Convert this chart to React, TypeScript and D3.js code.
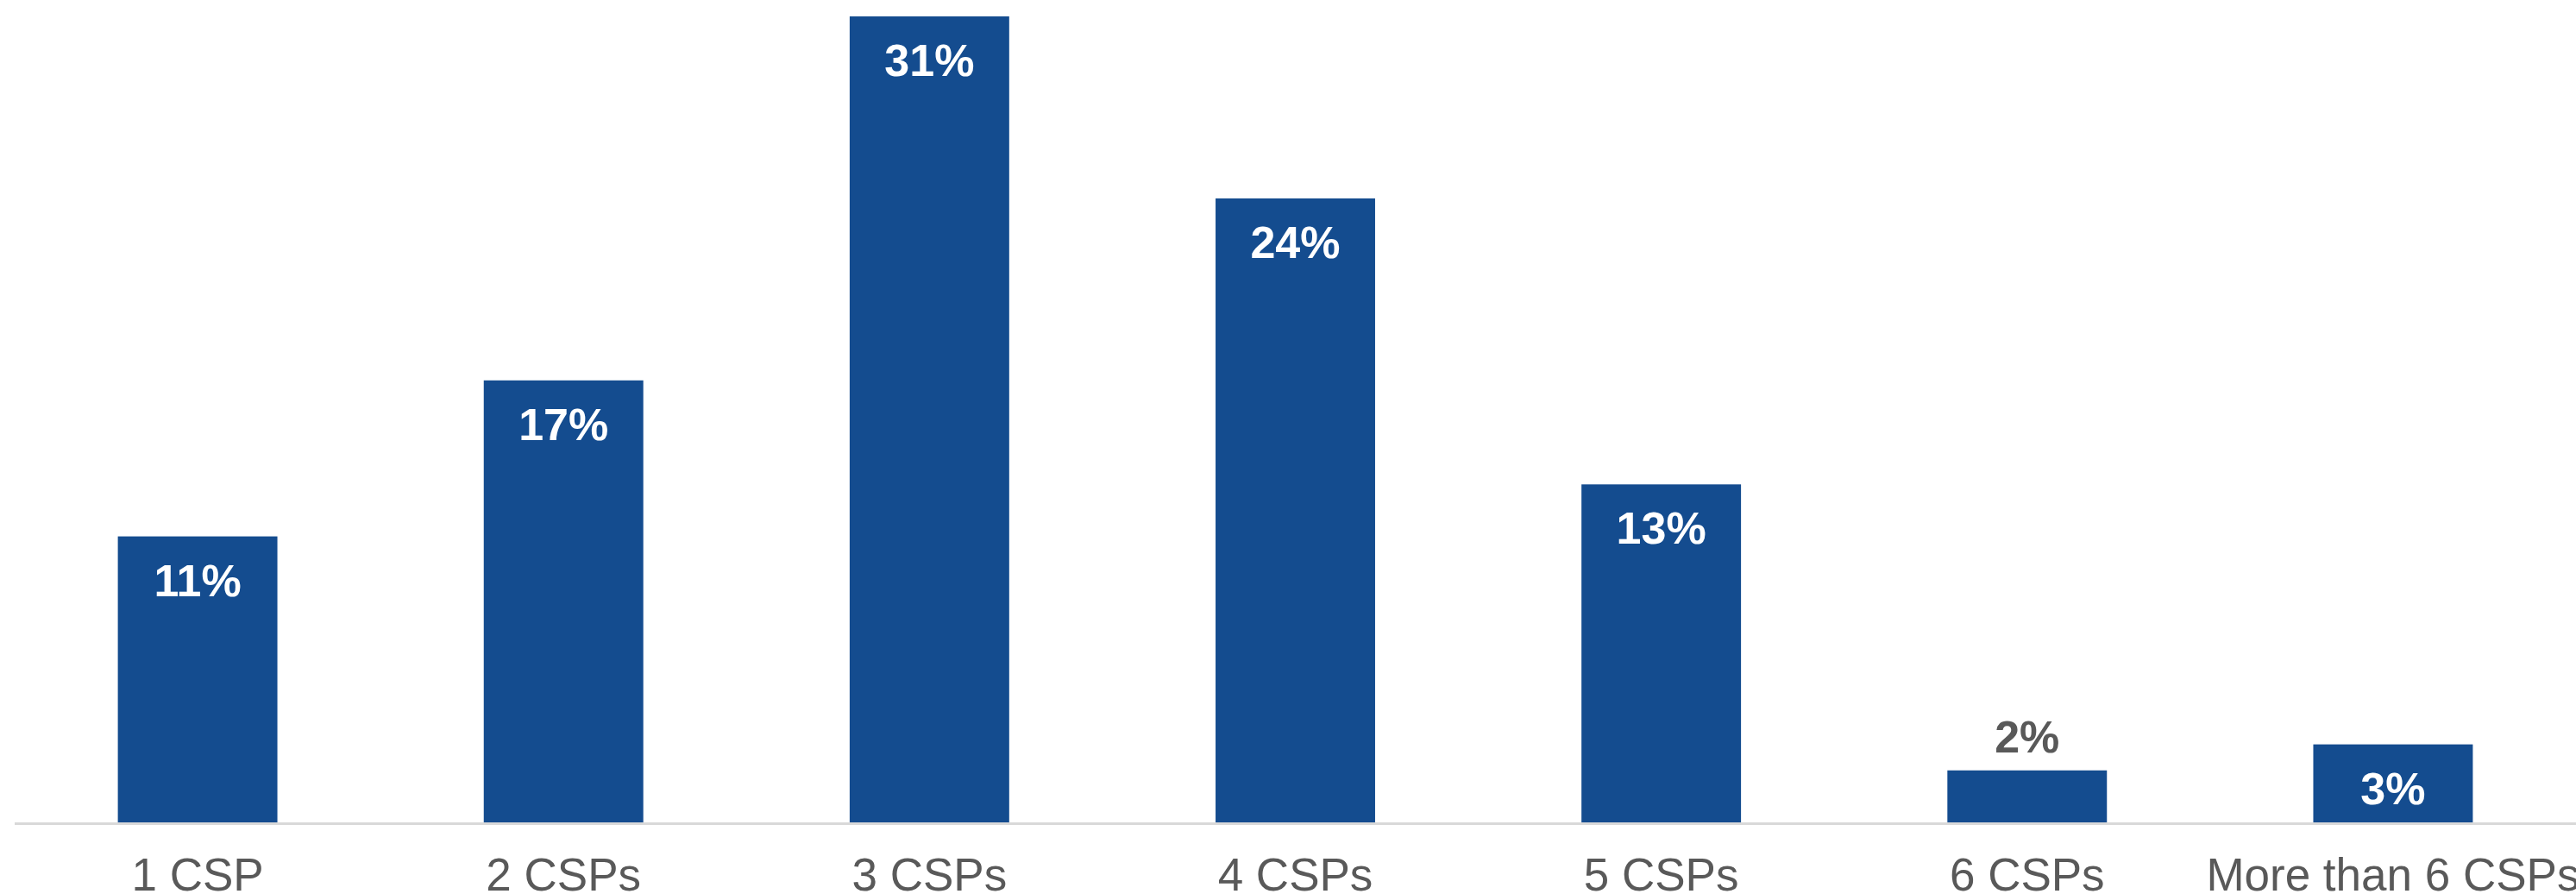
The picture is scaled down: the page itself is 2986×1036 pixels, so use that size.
import React from "react";
import * as d3 from "d3";

const categories = ["1 CSP", "2 CSPs", "3 CSPs", "4 CSPs", "5 CSPs", "6 CSPs", "More than 6 CSPs"];
const values = [11, 17, 31, 24, 13, 2, 3];
const labels = ["11%", "17%", "31%", "24%", "13%", "2%", "3%"];
const labelOutside = [false, false, false, false, false, true, false];

const W = 2986;
const H = 1036;
const BASE = 953;
const TOP = 19;
const FONT = "'Liberation Sans', Arial, sans-serif";

export default function App() {
  const x = d3
    .scaleBand<string>()
    .domain(categories)
    .range([17, 2986])
    .paddingInner(0.564)
    .paddingOuter(0.282);
  const y = d3.scaleLinear().domain([0, 31]).range([BASE, TOP]);

  return (
    <svg
      width={W}
      height={H}
      style={{ position: "absolute", left: 0, top: 0, background: "#ffffff" }}
    >
      <rect x={0} y={0} width={W} height={H} fill="#ffffff" />
      {categories.map((c, i) => {
        const bx = x(c)!;
        const by = y(values[i]);
        const cx = bx + x.bandwidth() / 2;
        const outside = labelOutside[i];
        return (
          <g key={c}>
            <rect x={bx} y={by} width={x.bandwidth()} height={BASE - by} fill="#144C8F" />
            <text
              x={cx}
              y={outside ? by - 21 : by + 69}
              textAnchor="middle"
              fontFamily={FONT}
              fontWeight="bold"
              fontSize={52}
              fill={outside ? "#595959" : "#ffffff"}
            >
              {labels[i]}
            </text>
            <text
              x={cx}
              y={1032}
              textAnchor="middle"
              fontFamily={FONT}
              fontSize={53}
              fill="#595959"
            >
              {c}
            </text>
          </g>
        );
      })}
      <line x1={17} x2={W} y1={954.5} y2={954.5} stroke="#d9d9d9" strokeWidth={3} />
    </svg>
  );
}
